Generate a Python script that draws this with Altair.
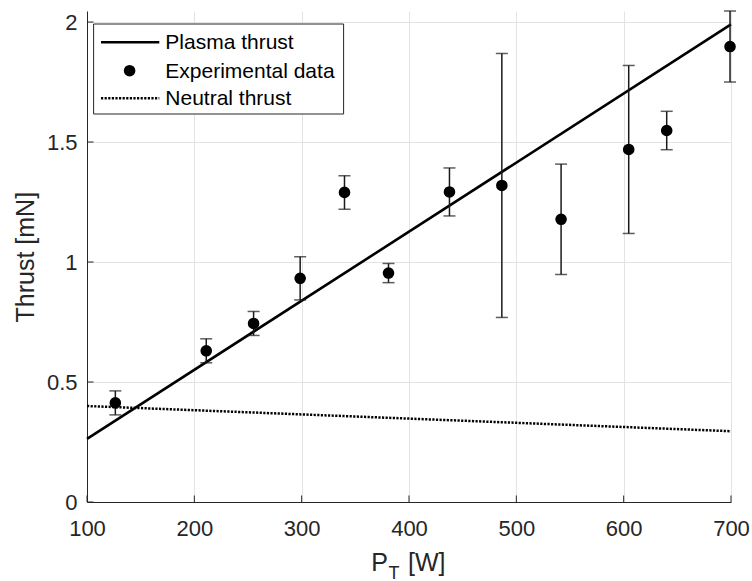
import altair as alt
import pandas as pd

# ---- data ----
power_w = [126.4, 211.1, 255.2, 298.6, 339.9, 380.9, 437.7, 486.5, 541.7, 604.7, 640.1, 699.1]
thrust_mn = [0.413, 0.630, 0.744, 0.932, 1.290, 0.954, 1.292, 1.319, 1.178, 1.469, 1.548, 1.898]
thrust_err = [0.050, 0.050, 0.050, 0.090, 0.070, 0.040, 0.100, 0.550, 0.230, 0.350, 0.080, 0.148]

plasma_x = [100, 700]
plasma_y = [0.263, 1.990]
neutral_x = [100, 700]
neutral_y = [0.400, 0.295]

x_ticks = [100, 200, 300, 400, 500, 600, 700]
y_ticks = [0, 0.5, 1, 1.5, 2]
legend_labels = ["Plasma thrust", "Experimental data", "Neutral thrust"]

FONT = "Liberation Sans"
TXT = "#262626"
GRID = "#e3e3e3"
W, H = 644, 491

pts = pd.DataFrame({"P": power_w, "T": thrust_mn, "e": thrust_err})
pts["lo"] = pts["T"] - pts["e"]
pts["hi"] = pts["T"] + pts["e"]
plasma = pd.DataFrame({"P": plasma_x, "T": plasma_y})
neutral = pd.DataFrame({"P": neutral_x, "T": neutral_y})
xt = pd.DataFrame({"P": x_ticks})
yt = pd.DataFrame({"T": y_ticks})
one = pd.DataFrame({"k": [0]})

xs = alt.Scale(domain=[100, 700], nice=False, zero=False)
ys = alt.Scale(domain=[0, 2.046], nice=False, zero=False)

x_axis = alt.Axis(values=x_ticks, format="d", title=None, grid=True, gridColor=GRID,
                  gridWidth=1, ticks=False, domainColor=TXT, domainWidth=1,
                  labelFontSize=22, labelColor=TXT, labelPadding=16, labelFlush=False,
                  labelOverlap=False, labelFont=FONT)
y_axis = alt.Axis(values=y_ticks, format="~g", title="Thrust [mN]", grid=True, gridColor=GRID,
                  gridWidth=1, ticks=False, domainColor=TXT, domainWidth=1,
                  labelFontSize=22, labelColor=TXT, labelPadding=10, labelFlush=False,
                  labelOverlap=False, labelFont=FONT, titleFont=FONT,
                  titleFontSize=25, titleFontWeight="normal",
                  titleColor=TXT, titleX=-54, titleY=245.7, titleAngle=-90,
                  titleAlign="center", titleBaseline="alphabetic")


def X(f):
    return alt.X(f, type="quantitative", scale=xs, axis=x_axis)


def Y(f):
    return alt.Y(f, type="quantitative", scale=ys, axis=y_axis)


# inward ticks
xtick = alt.Chart(xt).mark_rule(color=TXT, strokeWidth=1).encode(
    x=X("P"), y=alt.value(H), y2=alt.value(H - 6.5))
ytick = alt.Chart(yt).mark_rule(color=TXT, strokeWidth=1).encode(
    y=Y("T"), x=alt.value(0), x2=alt.value(6.5))

neutral_line = alt.Chart(neutral).mark_line(color="black", strokeWidth=2.5,
                                            strokeDash=[2.2, 1.4]).encode(x=X("P"), y=Y("T"))
plasma_line = alt.Chart(plasma).mark_line(color="black", strokeWidth=2.6).encode(
    x=X("P"), y=Y("T"))

bars = alt.Chart(pts).mark_rule(color="#1a1a1a", strokeWidth=1.5).encode(
    x=X("P"), y=Y("lo"), y2="hi")
cap_lo = alt.Chart(pts).mark_tick(color="#1a1a1a", orient="horizontal", size=12,
                                  thickness=1.5).encode(x=X("P"), y=Y("lo"))
cap_hi = alt.Chart(pts).mark_tick(color="#1a1a1a", orient="horizontal", size=12,
                                  thickness=1.5).encode(x=X("P"), y=Y("hi"))
dots = alt.Chart(pts).mark_point(filled=True, color="black", size=135, opacity=1).encode(
    x=X("P"), y=Y("T"))

# legend (manual, MATLAB style)
leg_box = alt.Chart(one).mark_rect(fill="white", stroke=TXT, strokeWidth=1).encode(
    x=alt.value(6.6), x2=alt.value(256.6), y=alt.value(13), y2=alt.value(103))
leg_l1 = alt.Chart(one).mark_rule(color="black", strokeWidth=2.6).encode(
    x=alt.value(14), x2=alt.value(72.3), y=alt.value(31.3))
leg_pt = alt.Chart(one).mark_point(filled=True, color="black", size=135, opacity=1).encode(
    x=alt.value(42.6), y=alt.value(59.7))
leg_l3 = alt.Chart(one).mark_rule(color="black", strokeWidth=2.5, strokeDash=[2.2, 1.4]).encode(
    x=alt.value(14), x2=alt.value(72.3), y=alt.value(87.3))
leg_texts = []
for lab, yy in zip(legend_labels, [31.3, 59.7, 87.3]):
    leg_texts.append(
        alt.Chart(one).mark_text(text=lab, align="left", baseline="middle", fontSize=21,
                                 color="black", font=FONT).encode(
            x=alt.value(78.3), y=alt.value(yy + 1)))

# x-axis title with subscript
t_p = alt.Chart(one).mark_text(text="P", align="left", baseline="alphabetic", fontSize=25,
                               color=TXT, font=FONT).encode(x=alt.value(284.2), y=alt.value(560.2))
t_t = alt.Chart(one).mark_text(text="T", align="left", baseline="alphabetic", fontSize=18,
                               color=TXT, font=FONT).encode(x=alt.value(301.5), y=alt.value(567.5))
t_w = alt.Chart(one).mark_text(text="[W]", align="left", baseline="alphabetic", fontSize=25,
                               color=TXT, font=FONT).encode(x=alt.value(321), y=alt.value(560.2))

chart = alt.layer(
    xtick, ytick, neutral_line, plasma_line, bars, cap_lo, cap_hi, dots,
    leg_box, leg_l1, leg_pt, leg_l3, *leg_texts, t_p, t_t, t_w
).properties(
    width=W, height=H,
    autosize=alt.AutoSizeParams(type="none"),
    padding={"left": 87, "top": 11, "right": 21, "bottom": 79},
    background="white",
    view=alt.ViewBackground(strokeWidth=0, strokeOpacity=0, stroke="white"),
).configure_view(strokeWidth=0, strokeOpacity=0, stroke="white").configure(font=FONT)

chart.save("out.html", embed_options={"renderer": "svg", "actions": False})
